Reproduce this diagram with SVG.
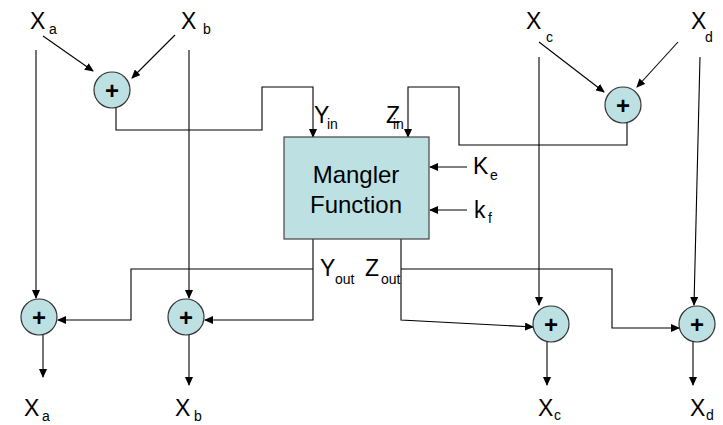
<svg xmlns="http://www.w3.org/2000/svg" width="723" height="425" viewBox="0 0 723 425">
<style>
.ln{fill:none;stroke:#000;stroke-width:1.1}
.add{fill:#bde0e3;stroke:#333;stroke-width:1.2}
.plus{font-family:"Liberation Sans",Arial,sans-serif;font-size:24px;font-weight:bold;text-anchor:middle}
.lbl{font-family:"Liberation Sans",Arial,sans-serif;font-size:23px;fill:#000}
.sub{font-size:14px}
.mid{font-family:"Liberation Sans",Arial,sans-serif;font-size:24px;text-anchor:middle}
</style>
<defs>
<marker id="ah" markerWidth="9" markerHeight="8" refX="8" refY="4" orient="auto" markerUnits="userSpaceOnUse">
<path d="M0,0 L9,4 L0,8 Z" fill="#000"/>
</marker>
</defs>
<rect width="723" height="425" fill="#fff"/>
<g id="connectors">
<line class="ln" x1="43" y1="36" x2="93" y2="71" marker-end="url(#ah)"/>
<line class="ln" x1="175" y1="35" x2="132" y2="78" marker-end="url(#ah)"/>
<line class="ln" x1="539" y1="42" x2="604" y2="92" marker-end="url(#ah)"/>
<line class="ln" x1="678" y1="42" x2="637" y2="87" marker-end="url(#ah)"/>
<line class="ln" x1="36" y1="50" x2="36" y2="298" marker-end="url(#ah)"/>
<line class="ln" x1="189" y1="50" x2="189" y2="298" marker-end="url(#ah)"/>
<line class="ln" x1="539" y1="57" x2="539" y2="305" marker-end="url(#ah)"/>
<line class="ln" x1="700" y1="57" x2="694" y2="305" marker-end="url(#ah)"/>
<polyline class="ln" points="116,108 116,130 262,130 262,87 313,87 313,137" marker-end="url(#ah)"/>
<polyline class="ln" points="627,123 627,145 459,145 459,87 408,87 408,137" marker-end="url(#ah)"/>
<line class="ln" x1="467" y1="167" x2="430" y2="167" marker-end="url(#ah)"/>
<line class="ln" x1="467" y1="210" x2="430" y2="210" marker-end="url(#ah)"/>
<polyline class="ln" points="313,239 313,320 205,320" marker-end="url(#ah)"/>
<polyline class="ln" points="313,269 131,269 131,320 58,320" marker-end="url(#ah)"/>
<polyline class="ln" points="401,239 401,320 533,327" marker-end="url(#ah)"/>
<polyline class="ln" points="401,269 612,269 612,328 679,328" marker-end="url(#ah)"/>
<line class="ln" x1="43" y1="335" x2="43" y2="377" marker-end="url(#ah)"/>
<line class="ln" x1="189" y1="335" x2="189" y2="385" marker-end="url(#ah)"/>
<line class="ln" x1="547" y1="342" x2="547" y2="385" marker-end="url(#ah)"/>
<line class="ln" x1="693" y1="342" x2="693" y2="385" marker-end="url(#ah)"/>
</g>
<g id="adder-top-left"><circle class="add" cx="112" cy="90" r="18"/><text class="plus" x="112" y="99">+</text></g>
<g id="adder-top-right"><circle class="add" cx="623" cy="105" r="18"/><text class="plus" x="623" y="114">+</text></g>
<g id="adder-a"><circle class="add" cx="39" cy="317" r="18"/><text class="plus" x="39" y="326">+</text></g>
<g id="adder-b"><circle class="add" cx="186" cy="317" r="18"/><text class="plus" x="186" y="326">+</text></g>
<g id="adder-c"><circle class="add" cx="551" cy="324" r="18"/><text class="plus" x="551" y="333">+</text></g>
<g id="adder-d"><circle class="add" cx="697" cy="324" r="18"/><text class="plus" x="697" y="333">+</text></g>
<g id="mangler">
<rect x="284" y="137" width="145" height="102" fill="#bde0e3" stroke="#444" stroke-width="1.2"/>
<text class="mid" x="356" y="183">Mangler</text>
<text class="mid" x="356" y="213">Function</text>
</g>
<g id="labels">
<text class="lbl" x="30" y="29">X<tspan class="sub" x="49" y="34">a</tspan></text>
<text class="lbl" x="181" y="29">X<tspan class="sub" x="203" y="34">b</tspan></text>
<text class="lbl" x="526" y="29">X<tspan class="sub" x="546" y="42">c</tspan></text>
<text class="lbl" x="691" y="29">X<tspan class="sub" x="705" y="42">d</tspan></text>
<text class="lbl" x="314" y="123" font-size="21">Y<tspan class="sub" x="327" y="129">in</tspan></text>
<text class="lbl" x="386" y="123" font-size="21">Z<tspan class="sub" x="393" y="129">in</tspan></text>
<text class="lbl" x="473" y="174" font-size="21">K<tspan class="sub" x="490" y="180">e</tspan></text>
<text class="lbl" x="474" y="218" font-size="21">k<tspan class="sub" x="488" y="223">f</tspan></text>
<text class="lbl" x="320" y="276" font-size="21">Y<tspan class="sub" x="335" y="284">out</tspan></text>
<text class="lbl" x="365" y="276" font-size="21">Z<tspan class="sub" x="381" y="284">out</tspan></text>
<text class="lbl" x="24" y="416">X<tspan class="sub" x="42" y="421">a</tspan></text>
<text class="lbl" x="175" y="416">X<tspan class="sub" x="194" y="421">b</tspan></text>
<text class="lbl" x="538" y="416">X<tspan class="sub" x="554" y="420">c</tspan></text>
<text class="lbl" x="690" y="416">X<tspan class="sub" x="706" y="420">d</tspan></text>
</g>
</svg>
